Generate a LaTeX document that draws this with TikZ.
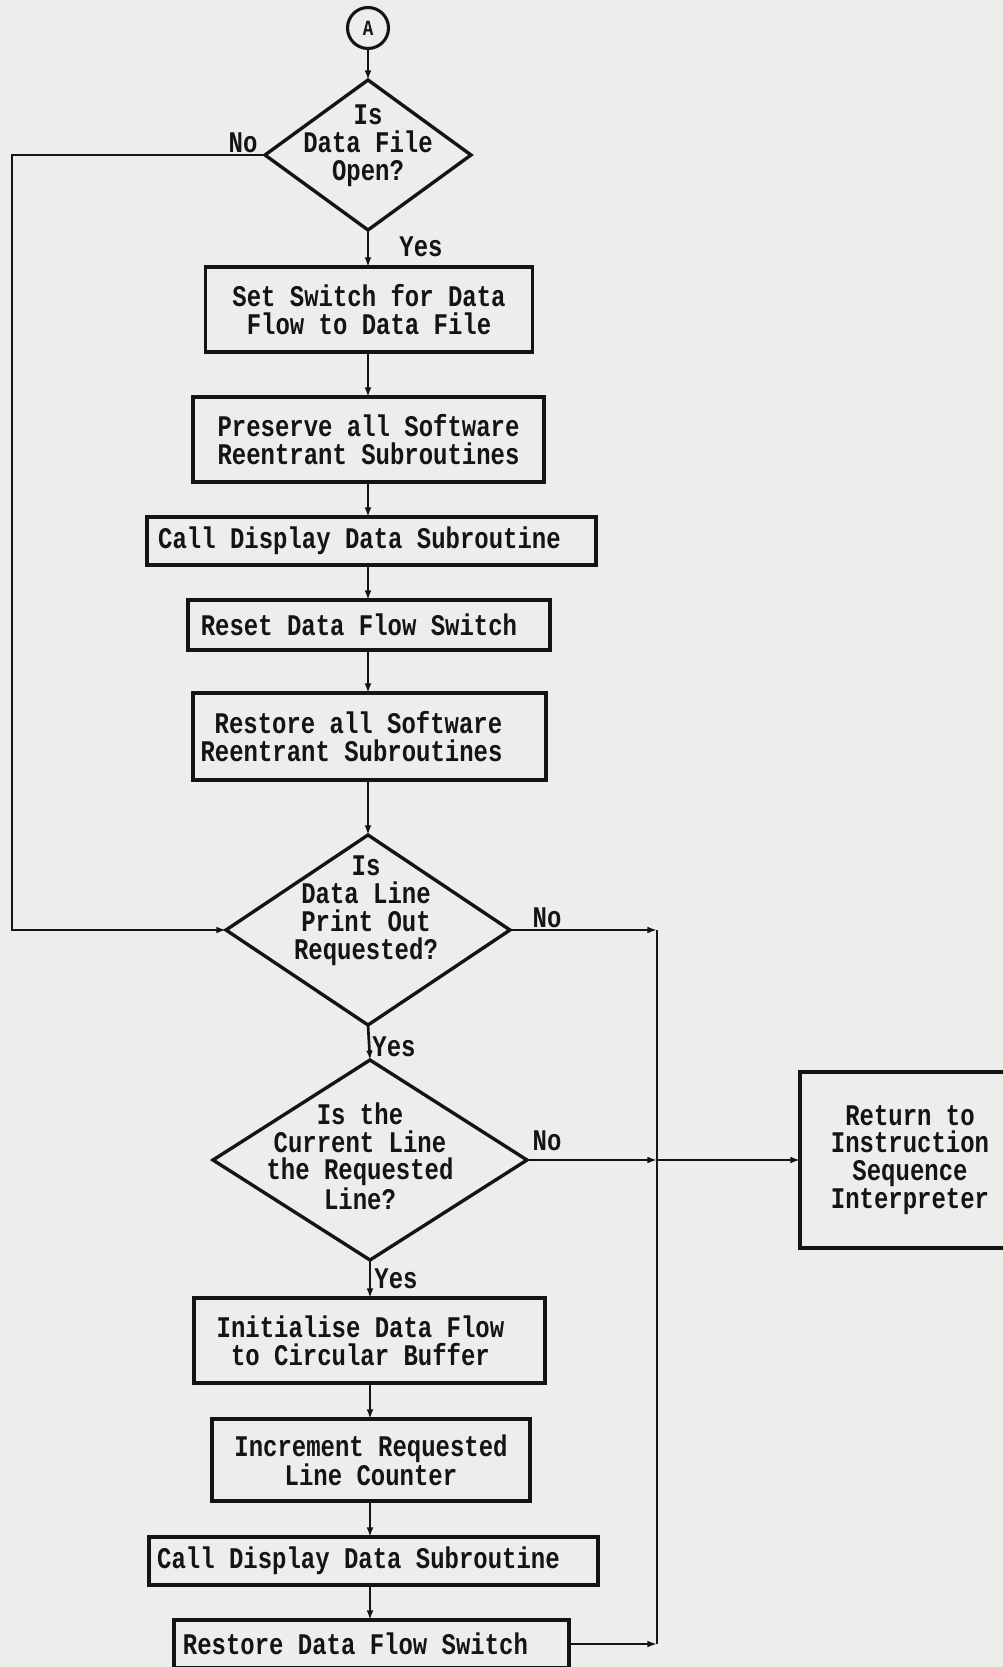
\documentclass[tikz,border=0pt]{standalone}
\usepackage{fontspec}
\usetikzlibrary{shapes.geometric,arrows.meta}
\newfontfamily\typer{Liberation Mono}[FakeStretch=0.8]
\newcommand{\tw}{\typer\bfseries\fontsize{21.3}{19.85}\selectfont}
\newcommand{\twsmall}{\typer\bfseries\fontsize{15.5}{15.5}\selectfont}
% pad a typed line on the right so that it sits left of the box centre
\newcommand{\pad}[1]{\hspace*{#1}}
\definecolor{paper}{RGB}{237,237,235}
\definecolor{ink}{RGB}{20,20,20}
\tikzset{
  pbox/.style 2 args={draw=ink, line width=2.3pt, rectangle,
    minimum width=#1*0.025cm, minimum height=#2*0.025cm,
    inner sep=0pt, outer sep=0pt, font=\tw, text=ink, align=center},
  dec/.style 2 args={draw=ink, line width=2.4pt, diamond,
    minimum width=#1*0.025cm, minimum height=#2*0.025cm,
    inner sep=0pt, outer sep=0pt},
  conn/.style={draw=ink, line width=2.2pt, circle, minimum size=41*0.025cm,
    inner sep=0pt, outer sep=0pt, font=\twsmall, text=ink},
  txt/.style={font=\tw, text=ink, align=center, inner sep=0pt},
  link/.style={draw=ink, line width=1.9pt, -{Latex[length=0.24cm,width=0.17cm]}},
  wire/.style={draw=ink, line width=1.9pt},
}
\begin{document}
\begin{tikzpicture}[x=0.025cm, y=-0.025cm]
\fill[paper] (0,0) rectangle (1003,1667);
\useasboundingbox (0,0) rectangle (1003,1667);
\clip (0,0) rectangle (1003,1667);

% entry connector and first decision
\node[conn] (A) at (368,28) {A};
\node[dec={206}{150}] (d1) at (368,155) {};
\node[txt] (d1t) at (368,146) {Is\\Data File\\Open?};

% processing boxes of the open-file branch
\node[pbox={327}{85}] (b1) at (369,309.5) {Set Switch for Data\\Flow to Data File};
\node[pbox={351}{85}] (b2) at (368.5,439.5) {Preserve all Software\\Reentrant Subroutines};
\node[pbox={449}{48}] (b3) at (371.5,541) {Call Display Data Subroutine\pad{0.6cm}};
\node[pbox={362}{50}] (b4) at (369,625) {Reset Data Flow Switch\pad{0.5cm}};
\node[pbox={353}{87}] (b5) at (369.5,736.5) {Restore all Software\pad{0.55cm}\\Reentrant Subroutines\pad{0.9cm}};

% second and third decisions
\node[dec={284}{190}] (d2) at (368,930) {};
\node[txt] (d2t) at (366,911) {Is\\Data Line\\Print Out\\Requested?};
\node[dec={314}{200}] (d3) at (370,1160) {};
\node[txt] (d3t) at (360,1156) {Is the\\Current Line\\the Requested\\Line?};

% print-out branch
\node[pbox={351}{85}] (b6) at (369.5,1340.5) {Initialise Data Flow\pad{0.45cm}\\to Circular Buffer\pad{0.45cm}};
\node[pbox={318}{82}] (b7) at (371,1460) {Increment Requested\\Line Counter};
\node[pbox={449}{48}] (b8) at (373.5,1561) {Call Display Data Subroutine\pad{0.75cm}};
\node[pbox={395}{48}] (b9) at (371.5,1644) {Restore Data Flow Switch\pad{0.8cm}};

% exit box
\node[pbox={220}{176}] (ret) at (910,1160) {Return to\\Instruction\\Sequence\\Interpreter};

% branch labels
\node[txt] (n1) at (243,143) {No};
\node[txt] (y1) at (421,247) {Yes};
\node[txt] (n2) at (547,918) {No};
\node[txt] (y2) at (394,1047) {Yes};
\node[txt] (n3) at (547,1141) {No};
\node[txt] (y3) at (396,1279) {Yes};

% routing points
\coordinate (lt) at (12,155);
\coordinate (lb) at (12,930);
\coordinate (rt) at (657,930);
\coordinate (rm) at (657,1160);
\coordinate (rb) at (657,1644);

% main spine
\draw[link] (A.south) -- (d1.north);
\draw[link] (d1.south) -- (b1.north -| d1);
\draw[link] (b1.south -| d1) -- (b2.north -| d1);
\draw[link] (b2.south -| d1) -- (b3.north -| d1);
\draw[link] (b3.south -| d1) -- (b4.north -| d1);
\draw[link] (b4.south -| d1) -- (b5.north -| d1);
\draw[link] (b5.south -| d1) -- (d2.north);
\draw[link] (d2.south) -- (d3.north);
\draw[link] (d3.south) -- (b6.north -| d3);
\draw[link] (b6.south -| d3) -- (b7.north -| d3);
\draw[link] (b7.south -| d3) -- (b8.north -| d3);
\draw[link] (b8.south -| d3) -- (b9.north -| d3);

% file-not-open bypass
\draw[link] (d1.west) -- (lt) -- (lb) -- (d2.west);

% exits towards the interpreter
\draw[link] (d2.east) -- (rt);
\draw[wire] (rt) -- (rb);
\draw[link] (d3.east) -- (rm);
\draw[link] (rm) -- (ret.west);
\draw[link] (b9.east) -- (rb);
\end{tikzpicture}
\end{document}
